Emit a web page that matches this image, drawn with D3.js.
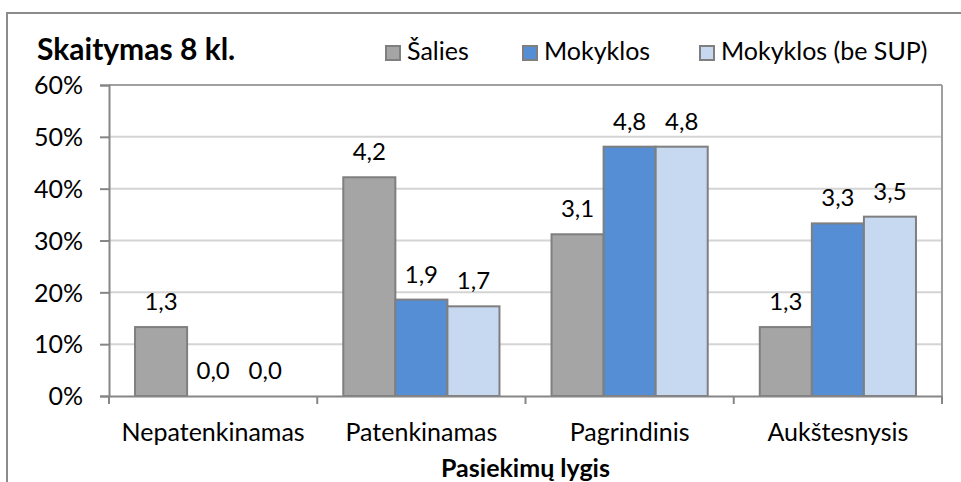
<!DOCTYPE html>
<html>
<head>
<meta charset="utf-8">
<script src="https://cdn.jsdelivr.net/npm/d3@7"></script>
<style>
  body { margin: 0; background: #fff; }
  text { font-family: Lato, "Open Sans", sans-serif; fill: #000; }
</style>
</head>
<body>
<div id="chart"></div>
<script>
const width = 961;
const height = 482;
const margin = {top: 85, right: 19, bottom: 86, left: 109};

// chart data
const categories = ["Nepatenkinamas", "Patenkinamas", "Pagrindinis", "Aukštesnysis"];
const seriesNames = ["Šalies", "Mokyklos", "Mokyklos (be SUP)"];
const salies = [13.3, 42.2, 31.2, 13.3];
const mokyklos = [0, 18.6, 48.1, 33.3];
const mokyklosBeSup = [0, 17.3, 48.1, 34.6];
const yTicks = [0, 10, 20, 30, 40, 50, 60];
const colors = ["#a5a5a5", "#558ed5", "#c6d9f1"];

const seriesValues = [salies, mokyklos, mokyklosBeSup];
const rows = categories.map((c, i) => ({
    category: c,
    values: seriesNames.map((s, j) => ({series: s, value: seriesValues[j][i]}))
}));

const svg = d3.select("#chart")
    .append("svg")
        .attr("width", width)
        .attr("height", height);

// outer chart border (left + top only visible in crop)
svg.append("path")
    .attr("d", `M7,${height + 5}V13H${width + 5}`)
    .attr("fill", "none")
    .attr("stroke", "#8c8c8c")
    .attr("stroke-width", 2);

const innerW = width - margin.left - margin.right;
const innerH = height - margin.top - margin.bottom;

const g = svg.append("g")
    .attr("transform", `translate(${margin.left},${margin.top})`);

const x0 = d3.scaleBand()
    .domain(categories)
    .range([0, innerW]);

const x1 = d3.scaleBand()
    .domain(seriesNames)
    .range([x0.bandwidth() / 8, x0.bandwidth() * 7 / 8]);

const y = d3.scaleLinear()
    .domain([0, 60])
    .range([innerH, 0]);

const color = d3.scaleOrdinal().domain(seriesNames).range(colors);

// gridlines
g.append("g")
    .selectAll("line")
    .data(yTicks.filter(d => d > 0))
    .join("line")
        .attr("x1", 0)
        .attr("x2", innerW)
        .attr("y1", d => y(d))
        .attr("y2", d => y(d))
        .attr("stroke", "#d4d4d4")
        .attr("stroke-width", 2);

// right + top border of plot area
g.append("line")
    .attr("x1", innerW).attr("x2", innerW)
    .attr("y1", 0).attr("y2", innerH)
    .attr("stroke", "#a0a0a0")
    .attr("stroke-width", 2);
g.append("line")
    .attr("x1", 0).attr("x2", innerW)
    .attr("y1", 0).attr("y2", 0)
    .attr("stroke", "#a0a0a0")
    .attr("stroke-width", 2);

// bars
const groups = g.append("g")
    .selectAll("g")
    .data(rows)
    .join("g")
        .attr("transform", d => `translate(${x0(d.category)},0)`);

groups.selectAll("rect")
    .data(d => d.values.filter(v => v.value > 0))
    .join("rect")
        .attr("x", d => x1(d.series))
        .attr("y", d => y(d.value))
        .attr("width", x1.bandwidth())
        .attr("height", d => y(0) - y(d.value))
        .attr("fill", d => color(d.series))
        .attr("stroke", "#7f7f7f")
        .attr("stroke-width", 2);

const fmt = v => d3.format(".1f")(v / 10).replace(".", ",");

groups.selectAll("text")
    .data(d => d.values)
    .join("text")
        .attr("x", d => x1(d.series) + x1.bandwidth() / 2)
        .attr("y", d => y(d.value) - 17)
        .attr("text-anchor", "middle")
        .attr("font-size", 24)
        .text(d => fmt(d.value));

// y axis
const yAxis = g.append("g")
    .call(d3.axisLeft(y).tickValues(yTicks).tickFormat(d => d + "%").tickSize(9).tickPadding(17));
yAxis.select(".domain").attr("stroke", "#868686").attr("stroke-width", 2);
yAxis.selectAll(".tick line").attr("stroke", "#868686").attr("stroke-width", 2);
yAxis.selectAll(".tick text").attr("font-size", 25).attr("fill", "#000").attr("dy", "0.35em");

// x axis
const xAxis = g.append("g")
    .attr("transform", `translate(0,${innerH})`)
    .call(d3.axisBottom(x0).tickSize(0).tickPadding(27));
xAxis.select(".domain").attr("stroke", "#868686").attr("stroke-width", 2);
xAxis.selectAll(".tick text").attr("font-size", 25).attr("fill", "#000");

// category separators
xAxis.append("g")
    .selectAll("line")
    .data(d3.range(categories.length + 1))
    .join("line")
        .attr("x1", i => i * x0.step())
        .attr("x2", i => i * x0.step())
        .attr("y1", 0)
        .attr("y2", 8)
        .attr("stroke", "#868686")
        .attr("stroke-width", 2);

// axis title
svg.append("text")
    .attr("x", margin.left + innerW / 2)
    .attr("y", 477)
    .attr("text-anchor", "middle")
    .attr("font-size", 25)
    .attr("font-weight", "bold")
    .text("Pasiekimų lygis");

// chart title
svg.append("text")
    .attr("x", 37)
    .attr("y", 60)
    .attr("font-size", 30)
    .attr("font-weight", "bold")
    .text("Skaitymas 8 kl.");

// legend
const legendX = [385, 522, 699];
const legend = svg.append("g")
    .selectAll("g")
    .data(seriesNames)
    .join("g")
        .attr("transform", (d, i) => `translate(${legendX[i]},45)`);

legend.append("rect")
    .attr("x", 1)
    .attr("y", 1)
    .attr("width", 14)
    .attr("height", 14)
    .attr("fill", d => color(d))
    .attr("stroke", "#7f7f7f")
    .attr("stroke-width", 2);

legend.append("text")
    .attr("x", 22)
    .attr("y", 15)
    .attr("font-size", 25)
    .text(d => d);
</script>
</body>
</html>
